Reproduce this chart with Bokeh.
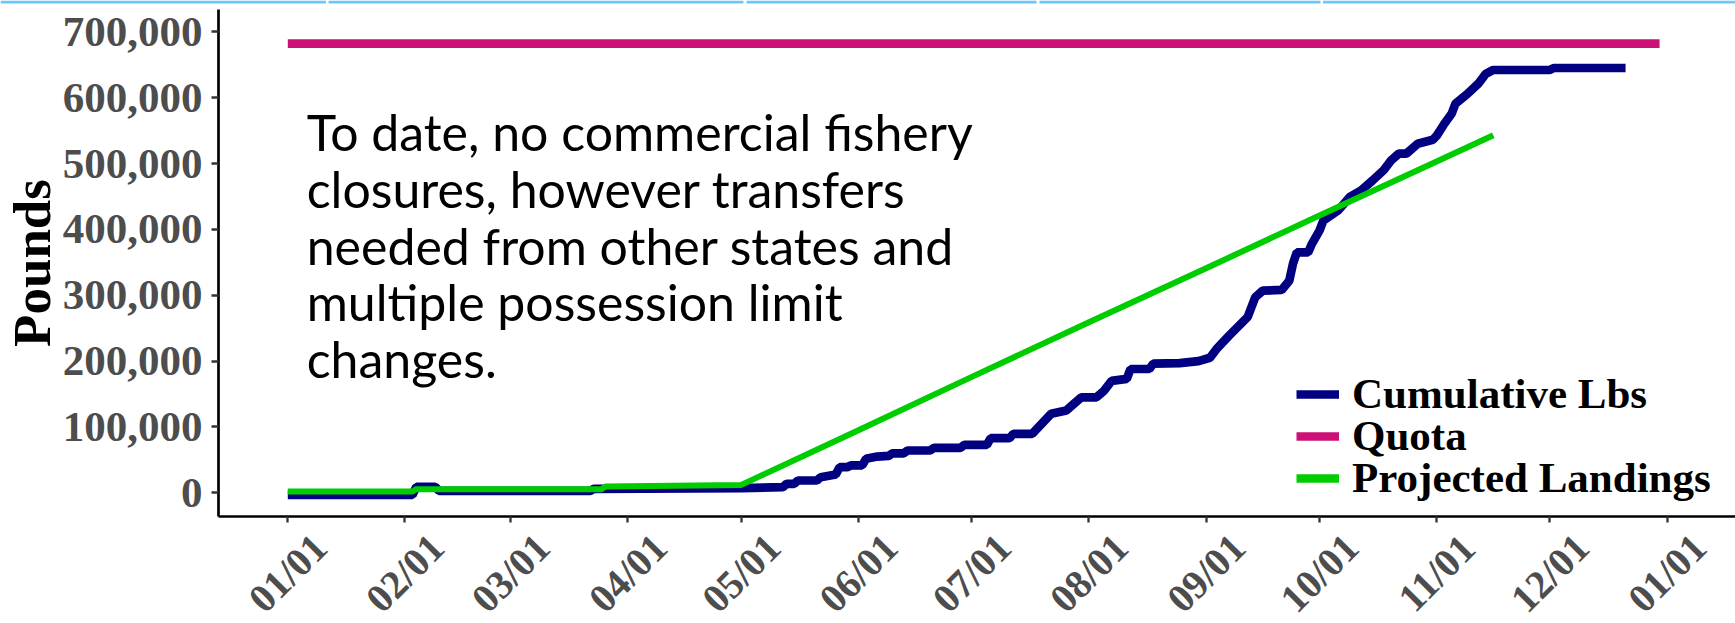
import math
from bokeh.plotting import figure
from bokeh.models import (ColumnDataSource, FixedTicker, NumeralTickFormatter, Legend,
                          LegendItem, LabelSet, Label, Range1d)
from bokeh.embed import file_html
from bokeh.resources import INLINE
from bokeh.core.properties import value

# ---------------- data ----------------
month_days = [0, 31, 59, 90, 120, 151, 181, 212, 243, 273, 304, 334, 365]
month_labels = ["01/01", "02/01", "03/01", "04/01", "05/01", "06/01", "07/01",
                "08/01", "09/01", "10/01", "11/01", "12/01", "01/01"]
y_ticks = [0, 100000, 200000, 300000, 400000, 500000, 600000, 700000]

cum_days = [0, 33, 34, 39, 40, 80, 81, 120, 131, 132, 134, 135, 140, 141, 145, 146,
            148, 149, 152, 153, 156, 159, 160, 163, 164, 170, 171, 178, 179, 185, 186,
            191, 192, 197, 202, 206, 208, 210, 214, 216, 218, 222, 223, 228, 229, 236,
            241, 244, 246, 249, 254, 256, 258, 263, 265, 266, 267, 270, 271, 273, 274,
            278, 281, 284, 287, 290, 292, 294, 296, 299, 303, 304, 306, 308, 309, 312,
            315, 317, 319, 334, 335, 354]
cum_lbs = [-3000, -3000, 9000, 9000, 3000, 3000, 6000, 7000, 8500, 13700, 13700, 18700,
           18700, 23700, 27800, 38900, 38900, 41500, 41500, 51600, 55000, 56000, 60000,
           60000, 64200, 64200, 68300, 68300, 72900, 72900, 82900, 82900, 89600, 89600,
           120000, 125000, 135000, 145000, 145000, 155000, 170000, 173000, 188000,
           188000, 196000, 197000, 200000, 205000, 220000, 238000, 267000, 297000,
           307000, 308000, 322000, 348000, 365000, 365000, 378000, 398000, 413000,
           429000, 449000, 459000, 474000, 490000, 505000, 515000, 515000, 530000,
           536000, 542000, 560000, 576000, 591000, 605000, 621000, 636000, 642000,
           642000, 645000, 645000]

quota_days = [0, 363]
quota_lbs = [682000, 682000]

proj_days = [0, 33, 34, 83, 84, 120, 151, 181, 212, 243, 273, 304, 319]
proj_lbs = [2000, 2000, 5500, 5500, 9500, 12000, 95000, 176000, 259000, 341000,
            421000, 503000, 543000]

series_names = ["Cumulative Lbs", "Quota", "Projected Landings"]

note = ("To date, no commercial fishery\nclosures, however transfers\n"
        "needed from other states and\nmultiple possession limit\nchanges.")

# ---------------- layout geometry (pixels of the 1735x623 page) ----------------
W, H = 1735, 623
JAN1_PX, PX_PER_DAY = 287.3, 3.779       # horizontal scale
ZERO_PX, PX_PER_LB = 492.3, 65.86 / 1e5  # vertical scale
AXIS_X_PX, AXIS_Y_PX, TOP_PX = 218, 516, 9


def day_at(px):
    return (px - JAN1_PX) / PX_PER_DAY


def lbs_at(py):
    return (ZERO_PX - py) / PX_PER_LB


# top decorative strip (slide frame) segments, in pixels
strip_px = [(0, 325.5), (328, 743), (746, 1036), (1039, 1320), (1322.5, W)]

# ---------------- figure ----------------
p = figure(width=W, height=H, output_backend="svg", toolbar_location=None,
           x_range=Range1d(day_at(0), day_at(W)), y_range=Range1d(lbs_at(H), lbs_at(0)),
           min_border_left=0, min_border_right=0, min_border_top=0, min_border_bottom=0)
p.outline_line_color = None
p.xgrid.visible = False
p.ygrid.visible = False
p.background_fill_color = "white"
p.border_fill_color = "white"

SERIF = "Liberation Serif"

# strip along the top edge
p.quad(left=[day_at(a) for a, b in strip_px], right=[day_at(b) for a, b in strip_px],
       top=lbs_at(0), bottom=lbs_at(3), fill_color="#6ec6fa", line_color=None)

# y axis
p.yaxis.fixed_location = day_at(AXIS_X_PX)
p.yaxis.ticker = FixedTicker(ticks=y_ticks)
p.yaxis.formatter = NumeralTickFormatter(format="0,0")
p.yaxis.bounds = (lbs_at(AXIS_Y_PX), lbs_at(TOP_PX))
p.yaxis.axis_label = "Pounds"
p.yaxis.axis_label_text_font = SERIF
p.yaxis.axis_label_text_font_style = "bold"
p.yaxis.axis_label_text_font_size = "53px"
p.yaxis.axis_label_text_color = "black"
p.yaxis.axis_label_standoff = -1
p.yaxis.major_label_text_font = SERIF
p.yaxis.major_label_text_font_style = "bold"
p.yaxis.major_label_text_font_size = "43px"
p.yaxis.major_label_text_color = "#4d4d4d"
p.yaxis.major_label_standoff = 9
p.yaxis.major_tick_out = 7
p.yaxis.major_tick_in = 0

# x axis (labels placed separately so they centre on the ticks)
p.xaxis.fixed_location = lbs_at(AXIS_Y_PX)
p.xaxis.bounds = (day_at(AXIS_X_PX), day_at(W))
p.xaxis.ticker = FixedTicker(ticks=month_days)
p.xaxis.major_label_overrides = {d: "" for d in month_days}
p.xaxis.major_label_standoff = 0
p.xaxis.major_tick_out = 6
p.xaxis.major_tick_in = 0

for ax in (p.xaxis, p.yaxis):
    ax.axis_line_color = "black"
    ax.axis_line_width = 2.7
    ax.major_tick_line_color = "#333333"
    ax.major_tick_line_width = 2.3
    ax.minor_tick_line_color = None

# rotated month labels
lab_src = ColumnDataSource(dict(x=month_days, text=month_labels))
p.add_layout(LabelSet(x="x", y=lbs_at(572.6), text="text", source=lab_src,
                      angle=math.pi / 4, text_align="center", text_baseline="middle",
                      text_font=value(SERIF), text_font_style="bold",
                      text_font_size="40px", text_color="#4d4d4d"))

# lines
r_cum = p.line(cum_days, cum_lbs, line_color="#000080", line_width=8.7)
r_quota = p.line(quota_days, quota_lbs, line_color="#CD1076", line_width=8.7)
r_proj = p.line(proj_days, proj_lbs, line_color="#00CD00", line_width=6)
r_proj_key = p.line(proj_days[:1], proj_lbs[:1], line_color="#00CD00", line_width=8.7)

# legend: one single-row legend per series so the rows sit close together
for name, rend, loc_y in zip(series_names, [r_cum, r_quota, r_proj_key], [205, 163, 121]):
    lg = Legend(items=[LegendItem(label=name, renderers=[rend])],
                location=(1296, loc_y), padding=0, margin=0, spacing=0,
                glyph_width=43, glyph_height=42, label_height=42, label_standoff=13,
                border_line_alpha=0, background_fill_alpha=0,
                label_text_font=SERIF, label_text_font_style="bold",
                label_text_font_size="43px", label_text_color="black")
    p.add_layout(lg)

# annotation text
p.add_layout(Label(x=day_at(306.2), y=lbs_at(101.8), text=note, text_font="Lato",
                   text_font_size="50px", text_color="black", text_align="left",
                   text_baseline="top", text_line_height=0.945))

open("out.html", "w").write(file_html(p, INLINE))
